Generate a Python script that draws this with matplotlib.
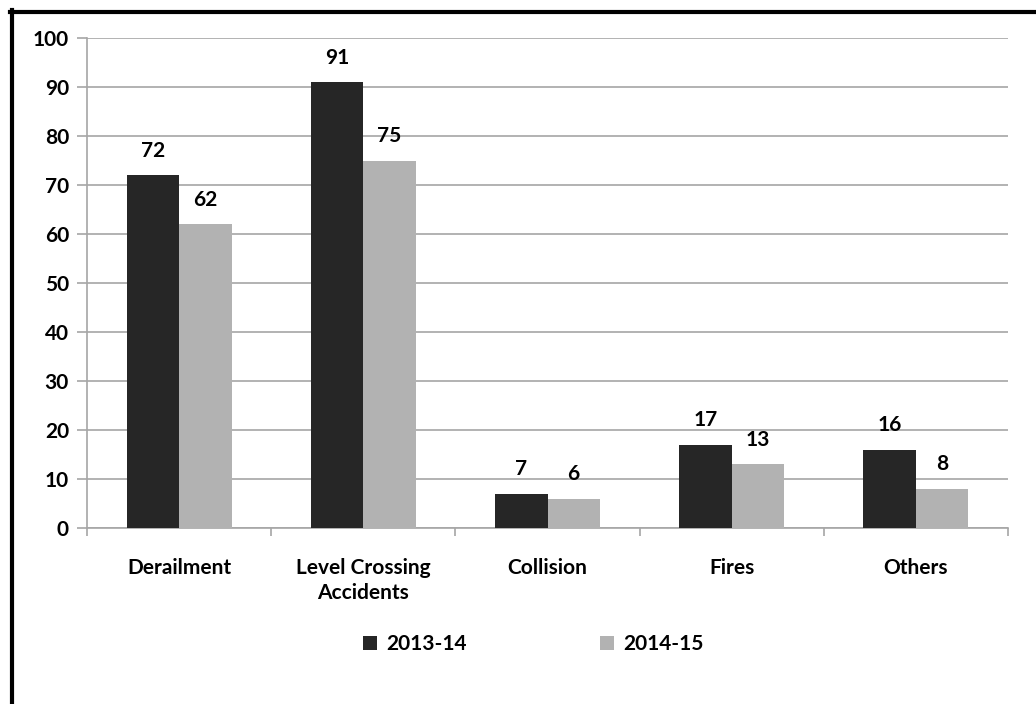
import numpy as np
import matplotlib.pyplot as plt
from matplotlib.lines import Line2D

plt.rcParams["font.family"] = ["Lato", "DejaVu Sans"]
plt.rcParams["font.weight"] = "bold"

# 事故类别与两年数据
categories = ["Derailment", "Level Crossing\nAccidents", "Collision", "Fires", "Others"]
years = ["2013-14", "2014-15"]
values_2013 = [72, 91, 7, 17, 16]
values_2014 = [62, 75, 6, 13, 8]

dark = "#262626"
light = "#b2b2b2"
grid_col = "#a6a6a6"
fs = 15


def draw_chart():
    fig = plt.figure(figsize=(10.36, 7.04), dpi=100)
    W, H = 1036, 704
    ax = fig.add_axes([87 / W, 1 - 528 / H, (1008 - 87) / W, (528 - 38) / H])

    x = np.arange(len(categories))
    w = 0.285

    b1 = ax.bar(x - w / 2, values_2013, w, color=dark, label=years[0], zorder=3)
    b2 = ax.bar(x + w / 2, values_2014, w, color=light, label=years[1], zorder=3)

    for bars in (b1, b2):
        for rect in bars:
            v = rect.get_height()
            ax.annotate(f"{v:g}", (rect.get_x() + rect.get_width() / 2, v),
                        xytext=(0, 10.5), textcoords="offset points",
                        ha="center", va="bottom", fontsize=fs,
                        fontweight="bold", color="black")

    ax.set_xlim(-0.5, len(categories) - 0.5)
    ax.set_ylim(0, 100)
    ax.set_yticks(range(0, 101, 10))
    ax.grid(axis="y", color=grid_col, linewidth=1.2, zorder=0)

    # 类别刻度放在分隔处
    ax.set_xticks(np.arange(-0.5, len(categories), 1.0))
    ax.set_xticklabels([])
    ax.set_xticks(x, minor=True)
    ax.set_xticklabels(categories, minor=True, fontsize=fs, fontweight="bold",
                       linespacing=1.3)
    ax.tick_params(axis="x", which="minor", length=0, pad=21.5)
    ax.tick_params(axis="x", which="major", length=6, color=grid_col, width=1.2, direction="out")
    ax.tick_params(axis="y", length=7, color=grid_col, width=1.2, labelsize=fs, pad=6)
    for lab in ax.get_yticklabels():
        lab.set_fontweight("bold")

    for side in ("top", "right"):
        ax.spines[side].set_visible(False)
    for side in ("left", "bottom"):
        ax.spines[side].set_color(grid_col)
        ax.spines[side].set_linewidth(1.2)

    fig.legend(handles=[b1, b2], labels=years, loc="center",
               bbox_to_anchor=(533 / W, 1 - 644 / H), ncol=2, frameon=False,
               fontsize=fs, handlelength=0.67, handleheight=0.67,
               columnspacing=6.4, handletextpad=0.45)

    # 外框
    fig.add_artist(Line2D([12 / W, 12 / W], [0, 1 - 10 / H], color="black",
                          linewidth=3, transform=fig.transFigure))
    fig.add_artist(Line2D([10 / W, 1], [1 - 12 / H, 1 - 12 / H], color="black",
                          linewidth=3, transform=fig.transFigure))

    fig.savefig("out.png", dpi=100, facecolor="white")
    plt.close(fig)


if __name__ == "__main__":
    draw_chart()
